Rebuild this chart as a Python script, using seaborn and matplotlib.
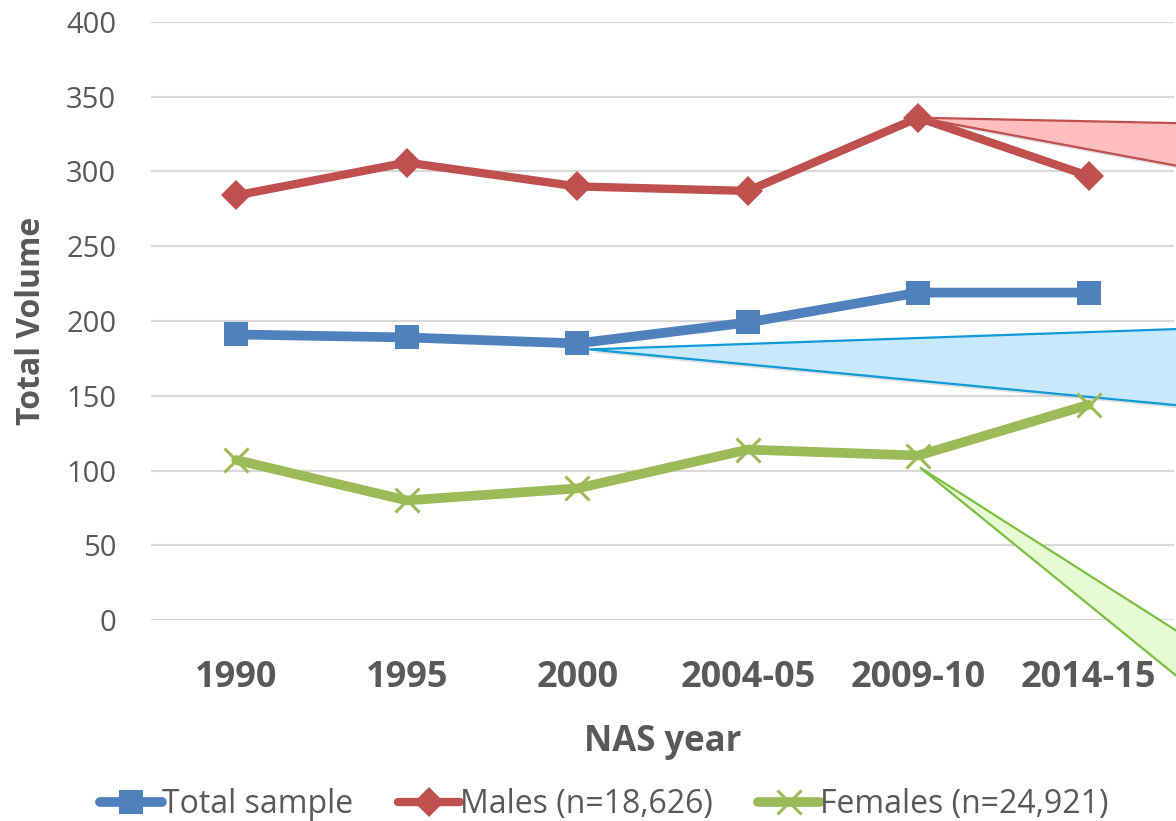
import matplotlib
matplotlib.use("Agg")
import matplotlib.pyplot as plt
import seaborn as sns
import pandas as pd
from matplotlib.patches import Polygon

years = ["1990", "1995", "2000", "2004-05", "2009-10", "2014-15"]
total_sample = [191, 189, 185, 199, 219, 219]
males = [284, 306, 290, 287, 336, 297]
females = [107, 80, 88, 114, 110, 144]
series_names = ["Total sample", "Males (n=18,626)", "Females (n=24,921)"]
yticks = [0, 50, 100, 150, 200, 250, 300, 350, 400]

sns.set_theme(style="white")
plt.rcParams['font.family'] = ['Open Sans', 'DejaVu Sans']

fig = plt.figure(figsize=(11.76, 8.21), dpi=100)
ax = fig.add_axes([151/1176, 1-620/821, (1174-151)/1176, (620-22)/821])

df = pd.DataFrame({"year": years, "total": total_sample, "males": males, "females": females})

c_blue = "#4f81bd"
c_red = "#c0504d"
c_green = "#9bbb59"

sns.lineplot(data=df, x="year", y="total", ax=ax, color=c_blue, lw=7,
             marker="s", markersize=17, markeredgewidth=0, label=series_names[0], zorder=5)
sns.lineplot(data=df, x="year", y="males", ax=ax, color=c_red, lw=6,
             marker="D", markersize=15, markeredgewidth=0, label=series_names[1], zorder=5)
sns.lineplot(data=df, x="year", y="females", ax=ax, color=c_green, lw=7,
             marker="x", markersize=17, markeredgewidth=2.2, markeredgecolor=c_green,
             label=series_names[2], zorder=5)

ax.set_xlim(-0.5, 5.5)
ax.set_ylim(0, 400)
ax.set_yticks(yticks)
ax.yaxis.grid(True, color="#d9d9d9", lw=1.6)
ax.xaxis.grid(False)
for s in ax.spines.values():
    s.set_visible(False)
ax.tick_params(axis="y", length=0, pad=25, labelsize=21, labelcolor="#595959")
ax.tick_params(axis="x", length=0, pad=29, labelsize=26, labelcolor="#595959")
for t in ax.get_xticklabels():
    t.set_fontweight("bold")
ax.set_xlabel("NAS year", fontsize=25, fontweight="bold", color="#595959", labelpad=20)
ax.set_ylabel("Total Volume", fontsize=23, fontweight="bold", color="#595959", labelpad=13)

# callout wedges (with a faint drop shadow)
wedges = [
    ([(4.0, 336), (6.5, 330), (6.5, 283)], "#ffbdbd", c_red),
    ([(2.07, 181), (6.5, 198.5), (6.5, 133)], "#c8e8fb", "#0f9ad8"),
    ([(4.01, 102), (7.0, -115), (7.0, -175)], "#e6fbd3", "#7ac142"),
]
for pts, fc, ec in wedges:
    shadow = Polygon([(x + 0.012, y - 2.0) for x, y in pts], closed=True,
                     facecolor="#bfbfbf", edgecolor="none", alpha=0.5,
                     clip_on=False, zorder=2.9)
    ax.add_patch(shadow)
    ax.add_patch(Polygon(pts, closed=True, facecolor=fc, edgecolor=ec, lw=1.6,
                         clip_on=False, zorder=3))

handles, labels = ax.get_legend_handles_labels()
ax.legend_.remove()
fig.legend(handles, labels, loc="center", bbox_to_anchor=(0.514, 0.02), ncol=3,
           frameon=False, fontsize=23, handlelength=1.95, handletextpad=0.0,
           columnspacing=1.4, labelcolor="#595959")

fig.savefig("out.png", dpi=100)
